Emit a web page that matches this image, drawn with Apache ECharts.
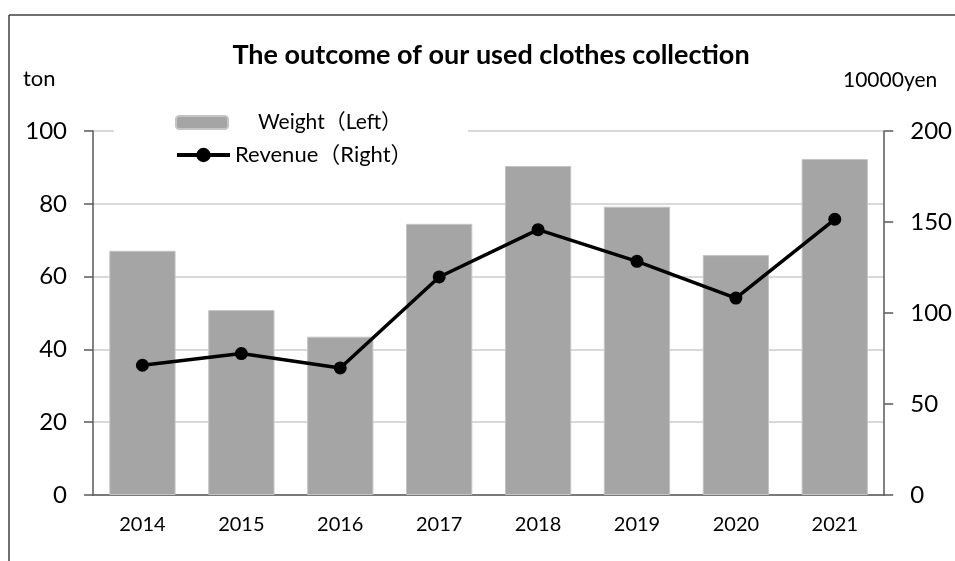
<!DOCTYPE html>
<html>
<head>
<meta charset="utf-8">
<script src="https://cdn.jsdelivr.net/npm/echarts@6/dist/echarts.min.js"></script>
<style>
  html, body { margin: 0; padding: 0; background: #fff; }
  #chart { width: 955px; height: 561px; }
</style>
</head>
<body>
<div id="chart"></div>
<script>
const years = ['2014', '2015', '2016', '2017', '2018', '2019', '2020', '2021']
const weight = [67.1, 50.8, 43.5, 74.5, 90.4, 79.2, 65.9, 92.3]   // ton (left)
const revenue = [71.3, 77.7, 69.8, 119.8, 145.8, 128.4, 108.2, 151.5] // 10000yen (right)

const FONT = 'Lato, "Noto Sans CJK JP", sans-serif'
const axisColor = '#595959'

const chart = echarts.init(document.getElementById('chart'), null, { renderer: 'canvas' })

chart.setOption({
  backgroundColor: '#fff',
  animation: false,
  textStyle: { fontFamily: FONT, color: '#000' },
  title: {
    text: 'The outcome of our used clothes collection',
    left: 486,
    textAlign: 'center',
    top: 37,
    textStyle: { fontFamily: FONT, fontSize: 27, fontWeight: 'bold', color: '#000' }
  },
  graphic: [
    // chart frame (top + left edges)
    { type: 'line', shape: { x1: 9, y1: 15, x2: 955, y2: 15 }, style: { stroke: '#404040', lineWidth: 1.5 }, z: 10 },
    { type: 'line', shape: { x1: 9, y1: 15, x2: 9, y2: 561 }, style: { stroke: '#404040', lineWidth: 1.5 }, z: 10 },
    // legend background
    { type: 'rect', shape: { x: 114, y: 100, width: 354, height: 72 }, style: { fill: '#fff' }, z: 3 },
    { type: 'text', left: 23, top: 68, style: { text: 'ton', font: '22px ' + FONT, fill: '#000' } },
    { type: 'text', left: 843, top: 70, style: { text: '10000yen', font: '21px ' + FONT, fill: '#000' } }
  ],
  legend: [
    {
      data: ['Weight（Left）'],
      left: 175, top: 112, padding: 0,
      itemWidth: 52, itemHeight: 13,
      z: 5,
      textStyle: { fontFamily: FONT, fontSize: 21, color: '#000', padding: [0, 0, 0, 25] }
    },
    {
      data: ['Revenue（Right）'],
      left: 175, top: 144, padding: 0,
      itemWidth: 53, itemHeight: 18,
      lineStyle: { width: 4 },
      z: 5,
      textStyle: { fontFamily: FONT, fontSize: 22, color: '#000' }
    }
  ],
  grid: { left: 93, right: 70, top: 131, bottom: 66 },
  xAxis: {
    type: 'category',
    data: years,
    axisLine: { lineStyle: { color: axisColor, width: 1.5 } },
    axisTick: { show: false },
    axisLabel: { fontSize: 20, color: '#000', margin: 20, fontFamily: FONT }
  },
  yAxis: [
    {
      type: 'value', min: 0, max: 100, interval: 20,
      axisLine: { show: true, lineStyle: { color: axisColor, width: 1.5 } },
      axisTick: { show: true, length: 9, lineStyle: { color: axisColor, width: 1.5 } },
      axisLabel: { fontSize: 24, color: '#000', margin: 26, fontFamily: FONT },
      splitLine: { lineStyle: { color: '#d9d9d9', width: 2 } }
    },
    {
      type: 'value', min: 0, max: 200, interval: 50,
      axisLine: { show: true, lineStyle: { color: axisColor, width: 1.5 } },
      axisTick: { show: true, length: 9, lineStyle: { color: axisColor, width: 1.5 } },
      axisLabel: { fontSize: 24, color: '#000', margin: 26, fontFamily: FONT },
      splitLine: { show: false }
    }
  ],
  series: [
    {
      name: 'Weight（Left）',
      type: 'bar',
      data: weight,
      yAxisIndex: 0,
      barCategoryGap: '33%',
      itemStyle: { color: '#a5a5a5', borderColor: '#c4c4c4', borderWidth: 1 }
    },
    {
      name: 'Revenue（Right）',
      type: 'line',
      data: revenue,
      yAxisIndex: 1,
      symbol: 'circle',
      symbolSize: 13,
      lineStyle: { color: '#000', width: 3.5 },
      itemStyle: { color: '#000' }
    }
  ]
})
</script>
</body>
</html>
